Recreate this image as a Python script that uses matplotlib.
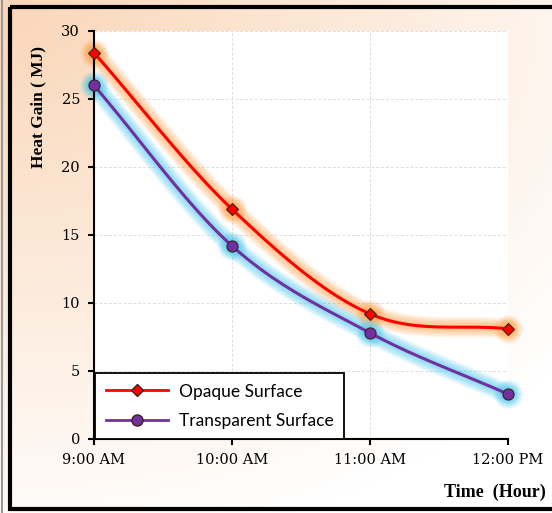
import numpy as np
import matplotlib.pyplot as plt
from matplotlib.patches import Rectangle
from matplotlib.lines import Line2D

# data
times = ["9:00 AM", "10:00 AM", "11:00 AM", "12:00 PM"]
opaque = [28.4, 16.9, 9.2, 8.1]
transparent = [26.0, 14.2, 7.8, 3.3]


def smooth(xs, ys, n=40):
    # catmull-rom curve through the points (like Excel "smoothed line")
    xs = np.asarray(xs, float)
    ys = np.asarray(ys, float)
    px = np.concatenate([[2 * xs[0] - xs[1]], xs, [2 * xs[-1] - xs[-2]]])
    py = np.concatenate([[2 * ys[0] - ys[1]], ys, [2 * ys[-1] - ys[-2]]])
    outx, outy = [], []
    t = np.linspace(0, 1, n)
    for i in range(1, len(px) - 2):
        for p, out in ((px, outx), (py, outy)):
            p0, p1, p2, p3 = p[i - 1], p[i], p[i + 1], p[i + 2]
            out.extend(0.5 * ((2 * p1) + (-p0 + p2) * t
                              + (2 * p0 - 5 * p1 + 4 * p2 - p3) * t ** 2
                              + (-p0 + 3 * p1 - 3 * p2 + p3) * t ** 3))
    return np.array(outx), np.array(outy)


fig = plt.figure(figsize=(5.52, 5.13), dpi=100)

# gradient background
bg = fig.add_axes([0, 0, 1, 1], zorder=-5)
gx, gy = np.meshgrid(np.linspace(0, 1, 200), np.linspace(0, 1, 200))
d = np.clip(np.sqrt((gx * 0.9) ** 2 + (gy * 1.1) ** 2) / 1.2, 0, 1)
c0 = np.array([0.98, 0.84, 0.72])
c1 = np.array([1.0, 1.0, 1.0])
img = c0[None, None, :] * (1 - d[..., None]) + c1[None, None, :] * d[..., None]
bg.imshow(img, extent=[0, 1, 1, 0], aspect="auto")
bg.set_xlim(0, 1)
bg.set_ylim(1, 0)
bg.axis("off")
bg.add_patch(Rectangle((10 / 552, 7 / 513), 1.2, 502 / 513, fill=False,
                       edgecolor="black", linewidth=3, clip_on=False))
bg.plot([2 / 552, 2 / 552], [0, 1], color="#999999", linewidth=1.5)

ax = fig.add_axes([94 / 552, 74 / 513, 414 / 552, 408 / 513])
ax.set_facecolor("white")
x = np.arange(len(times))

for ys, col, glow, mk, ms in ((opaque, "#ff0000", "#ffa040", "D", 6),
                              (transparent, "#7030a0", "#40c8f0", "o", 8)):
    sx, sy = smooth(x, ys)
    # soft glow: many thin-alpha strokes
    for w in np.linspace(15, 4, 10):
        ax.plot(sx, sy, color=glow, linewidth=w, alpha=0.07,
                solid_capstyle="round", clip_on=False, zorder=2)
        ax.plot(x, ys, linestyle="none", marker="o", markersize=w + 6,
                markerfacecolor=glow, markeredgewidth=0, alpha=0.07,
                clip_on=False, zorder=2)
    ax.plot(sx, sy, color=col, linewidth=2.2, clip_on=False, zorder=3)
    ax.plot(x, ys, linestyle="none", marker=mk, markersize=ms,
            markerfacecolor=col, markeredgecolor="#402020",
            markeredgewidth=0.8, clip_on=False, zorder=4)

ax.set_xlim(0, 3)
ax.set_ylim(0, 30)
ax.set_yticks(range(0, 31, 5))
ax.set_xticks(x)
ax.set_xticklabels(times)
ax.grid(True, color="#dddddd", linestyle=(0, (3, 2)), linewidth=0.7)
ax.set_axisbelow(True)
for s in ("top", "right"):
    ax.spines[s].set_visible(False)
for s in ("left", "bottom"):
    ax.spines[s].set_linewidth(1.5)
ax.tick_params(direction="out", length=4, width=1.5, pad=6)
for lab in ax.get_xticklabels() + ax.get_yticklabels():
    lab.set_family("DejaVu Serif")
    lab.set_fontsize(10.5)

fig.text(38 / 552, 1 - 107 / 513, "Heat Gain ( MJ)", rotation=90,
         ha="center", va="center", fontsize=12.5, fontweight="bold",
         family="Liberation Serif")
fig.text(546 / 552, 1 - 492 / 513, "Time  (Hour)", ha="right", va="center",
         fontsize=13, fontweight="bold", family="Liberation Serif")

handles = [Line2D([], [], color="#ff0000", linewidth=2, marker="D",
                  markersize=6, markerfacecolor="#ff0000",
                  markeredgecolor="#402020"),
           Line2D([], [], color="#7030a0", linewidth=2, marker="o",
                  markersize=8, markerfacecolor="#7030a0",
                  markeredgecolor="#402020")]
leg = ax.legend(handles, ["Opaque Surface", "Transparent Surface"],
                loc="lower left", bbox_to_anchor=(0.003, 0.0),
                fancybox=False, framealpha=1, edgecolor="black",
                prop={"family": "Lato", "size": 12.5}, handlelength=3.6,
                borderpad=0.6, labelspacing=0.75, borderaxespad=0,
                handletextpad=0.6)
leg.get_frame().set_linewidth(1.3)
leg.set_zorder(6)

fig.savefig("out.png", dpi=100)
